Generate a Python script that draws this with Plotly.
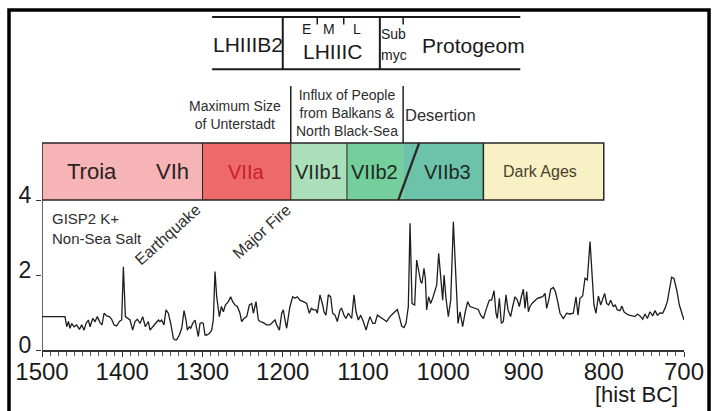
import plotly.graph_objects as go

# ---------------- data ----------------
k_years = [
    1500, 1471.3, 1469.2, 1467.1, 1465.1, 1463.0, 1460.1, 1456.8, 1453.4, 1450.5,
    1447.6, 1445.1, 1442.2, 1440.1, 1436.8, 1433.9, 1431.0, 1427.7, 1425.2, 1422.7,
    1419.4, 1416.1, 1413.2, 1410.2, 1406.9, 1403.6, 1400.7, 1398.6, 1396.1, 1393.6,
    1390.3, 1387.0, 1384.1, 1381.2, 1377.8, 1374.5, 1371.2, 1367.5,
    1365.4, 1361.2, 1357.1, 1355.0, 1353.0, 1350.9, 1348.0, 1345.5, 1342.6, 1339.6,
    1336.3, 1334.3, 1332.2, 1328.9, 1325.9, 1323.0, 1320.5, 1318.9, 1316.4, 1314.7,
    1312.2, 1309.3, 1307.3, 1305.2, 1303.1, 1301.0, 1299.0, 1296.9, 1294.8, 1291.5,
    1288.6, 1286.5, 1284.4, 1282.3, 1279.0, 1276.5, 1274.0, 1271.5, 1267.8, 1264.9,
    1262.4, 1259.5, 1256.6, 1253.3, 1251.2, 1248.3, 1244.9, 1241.6, 1238.7, 1236.6,
    1233.3, 1230.4, 1228.3, 1224.2, 1220.0, 1215.9, 1211.7, 1209.6, 1207.6, 1204.2,
    1201.3, 1199.3, 1197.2, 1195.1, 1193.0, 1191.0, 1187.6, 1184.7, 1181.8, 1178.5,
    1174.3, 1170.2, 1166.9, 1164.4, 1161.9, 1158.6, 1156.9, 1153.6, 1150.2, 1148.6,
    1146.1, 1143.2, 1140.3, 1137.8, 1134.9, 1132.0, 1128.6, 1126.6, 1123.7, 1121.2,
    1118.3, 1114.1, 1111.2, 1108.7, 1105.8, 1102.9, 1099.6, 1096.2, 1093.3, 1091.3,
    1087.9, 1085.0, 1082.1,
    1078.8, 1074.6, 1070.5, 1067.2, 1062.2, 1057.2, 1054.7, 1051.8, 1048.9, 1046.4,
    1043.5, 1041.4, 1038.9, 1035.6, 1033.1, 1030.6, 1028.1, 1026.5, 1024.0, 1022.3,
    1020.7, 1018.2, 1015.7, 1013.2, 1010.3, 1008.2, 1005.7, 1003.2, 1000.7, 999.0,
    996.6, 993.7, 990.7, 987.4, 984.1, 981.6, 979.1, 975.8, 972.9, 969.6,
    966.7, 963.3, 960.4, 956.3, 953.4, 950.0, 946.7, 942.6, 939.7, 936.7,
    934.3, 932.6, 930.1, 927.6, 925.1, 921.8, 919.3, 916.0, 913.5, 910.6,
    907.7, 905.2, 902.7, 900.2, 898.1, 896.0, 893.9, 891.9, 889.4, 885.6,
    882.7, 879.4, 876.1, 873.2, 871.1, 868.6, 866.1, 862.8, 860.3, 857.8,
    854.5,
    850.4, 846.2, 842.1, 837.9, 834.6, 832.1, 829.6, 826.3, 823.4, 820.5,
    817.1, 814.6, 812.2, 809.7, 806.7, 803.8, 801.4, 798.9, 796.4, 793.9,
    791.4, 788.1, 785.6, 783.1, 779.8, 777.3, 774.8, 771.5, 768.1, 764.8,
    761.1, 758.2, 754.8, 751.5, 748.6, 745.7, 742.4, 739.0, 736.1, 733.2,
    729.9, 726.6, 723.7, 720.8, 718.3, 715.4, 712.5, 709.1, 705.8, 702.9,
    700.0,
]
k_values = [
    0.89, 0.89, 0.62, 0.76, 0.58, 0.71, 0.62, 0.67, 0.55, 0.67,
    0.53, 0.71, 0.80, 0.62, 0.84, 0.76, 0.89, 0.73, 0.67, 0.98,
    0.91, 0.89, 0.82, 0.67, 0.64, 0.76, 0.80, 2.22, 0.89, 0.84,
    0.80, 0.53, 0.76, 0.82, 0.71, 0.89, 0.62, 0.76,
    0.53, 0.64, 0.76, 0.80, 0.76, 0.80, 0.67, 1.07, 0.98, 0.71,
    0.31, 0.27, 0.27, 0.40, 0.58, 1.05, 0.80, 0.53, 0.62, 0.58,
    0.71, 0.80, 0.58, 0.36, 0.71, 0.73, 0.71, 0.40, 0.40, 0.44,
    0.53, 0.80, 2.09, 1.42, 0.89, 1.16, 1.02, 1.20, 1.29, 1.42,
    1.29, 1.20, 1.16, 0.98, 0.76, 0.84, 0.89, 1.20, 1.24, 0.98,
    1.29, 0.80, 0.76, 0.73, 0.67, 0.67, 0.76, 0.80, 0.67, 0.53,
    0.98, 1.07, 0.80, 0.58, 0.89, 1.16, 1.42, 1.38, 1.42, 1.33,
    1.29, 1.24, 0.98, 1.11, 1.07, 1.07, 0.98, 1.47, 1.20, 1.02,
    0.93, 1.47, 1.42, 0.98, 0.93, 0.76, 1.07, 1.11, 0.93, 0.84,
    0.98, 0.84, 1.47, 1.02, 0.80, 0.93, 0.76, 0.53, 0.76, 0.89,
    0.71, 0.71, 0.93,
    0.89, 0.82, 0.76, 0.87, 0.98, 1.08, 0.89, 0.64, 0.60, 0.71,
    1.16, 3.38, 1.24, 1.20, 2.40, 2.09, 1.82, 1.78, 2.18, 1.91,
    1.07, 1.42, 1.24, 1.38, 1.60, 1.73, 2.58, 1.96, 1.33, 2.00,
    1.38, 0.89, 1.33, 3.42, 1.96, 0.71, 1.02, 0.62, 0.98, 1.29,
    1.16, 1.14, 1.11, 1.08, 0.93, 0.84, 1.07, 1.33, 1.33, 1.58,
    0.98, 0.84, 1.38, 0.71, 0.76, 1.47, 1.07, 0.89, 1.16, 1.42,
    1.33, 1.16, 1.42, 1.62, 1.11, 1.56, 1.02, 1.16, 1.24, 1.33,
    1.38, 1.40, 1.42, 1.51, 1.11, 1.33, 1.62, 1.67, 1.56, 1.33,
    0.98,
    0.84, 0.98, 0.96, 0.98, 1.42, 0.93, 1.38, 1.44, 1.91, 1.87,
    2.89, 1.87, 1.20, 0.98, 1.44, 1.20, 1.38, 1.51, 1.24, 1.20,
    1.33, 1.16, 1.20, 1.07, 1.05, 1.17, 1.02, 0.96, 0.93, 0.91,
    0.89, 0.96, 0.91, 0.82, 0.96, 0.84, 1.02, 0.91, 1.05, 0.93,
    0.99, 0.98, 1.11, 1.29, 1.64, 1.94, 1.91, 1.60, 1.20, 0.98,
    0.80,
]

# Troia settlement phases (band)
phase_names = ["VIh", "VIIa", "VIIb1", "VIIb2", "VIIb3", "Dark Ages"]
phase_start = [1500, 1300, 1190, 1120, 1050, 950]
phase_end = [1300, 1190, 1120, 1050, 950, 800]
phase_colors = ["#f6b4b7", "#ee6a69", "#aadfba", "#74cf9c", "#6dc3aa", "#f8f1c6"]
phase_label_years = [1337, 1246, 1155, 1086, 995, 879]

# Pottery periods (table)
pottery_names = ["LHIIIB2", "LHIIIC", "Protogeom"]
pottery_bounds = [1288, 1200, 1079, 904]
subphase_names = ["E", "M", "L"]
subphase_years = [1170, 1142, 1107]
subphase_ticks = [1157, 1124, 1050]

x_tick_vals = [1500, 1400, 1300, 1200, 1100, 1000, 900, 800, 700]
y_tick_vals = [0, 2, 4]

FONT = "Liberation Sans, Arial, sans-serif"
DARK = "#2b2523"
TXT = "#2e2e2e"

fig = go.Figure()
fig.add_trace(go.Scatter(x=k_years, y=k_values, mode="lines",
                         line=dict(color="#1e1e1e", width=1.3),
                         hoverinfo="skip", showlegend=False))

shapes = []
band_lo, band_hi = 4.0, 5.52
for s, e, c in zip(phase_start, phase_end, phase_colors):
    shapes.append(dict(type="rect", xref="x", yref="y", x0=s, x1=e, y0=band_lo, y1=band_hi,
                       fillcolor=c, line=dict(width=0), layer="below"))
for b in [1300, 1190, 1120]:
    shapes.append(dict(type="line", xref="x", yref="y", x0=b, x1=b, y0=band_lo, y1=band_hi,
                       line=dict(color=DARK, width=1)))
shapes.append(dict(type="line", xref="x", yref="y", x0=950, x1=950, y0=band_lo, y1=band_hi,
                   line=dict(color=DARK, width=1.5)))
shapes.append(dict(type="line", xref="x", yref="y", x0=1056, x1=1030, y0=band_lo, y1=band_hi,
                   line=dict(color=DARK, width=2.2)))
shapes.append(dict(type="rect", xref="x", yref="y", x0=1500, x1=800, y0=band_lo, y1=band_hi,
                   line=dict(color=DARK, width=1.5)))
for b in [1190, 1050]:
    shapes.append(dict(type="line", xref="x", yref="y", x0=b, x1=b, y0=band_hi, y1=7.04,
                       line=dict(color="#222", width=1.5)))
t_lo, t_hi = 7.49, 8.88
for yy in [t_lo, t_hi]:
    shapes.append(dict(type="line", xref="x", yref="y", x0=pottery_bounds[0], x1=pottery_bounds[-1],
                       y0=yy, y1=yy, line=dict(color="#1a1a1a", width=2)))
for b in pottery_bounds[1:3]:
    shapes.append(dict(type="line", xref="x", yref="y", x0=b, x1=b, y0=t_lo, y1=t_hi,
                       line=dict(color="#1a1a1a", width=2)))
for b in subphase_ticks:
    shapes.append(dict(type="line", xref="x", yref="y", x0=b, x1=b, y0=t_hi - 0.2, y1=t_hi,
                       line=dict(color="#1a1a1a", width=1.5)))
shapes.append(dict(type="line", xref="x", yref="y", x0=1500, x1=1500, y0=0, y1=4,
                   line=dict(color="#333", width=1.5)))
shapes.append(dict(type="rect", xref="paper", yref="paper", x0=-0.0514, x1=1.039,
                   y0=-0.3, y1=0.9855, line=dict(color="black", width=3.5)))

ann = []
def A(x, y, text, size, color=TXT, **kw):
    d = dict(x=x, y=y, xref="x", yref="y", text=text, showarrow=False,
             font=dict(family=FONT, size=size, color=color))
    d.update(kw)
    ann.append(d)

A(1438, 4.75, "Troia", 22, "#2a2222")
A(phase_label_years[0], 4.75, phase_names[0], 22, "#2a2222")
A(phase_label_years[1], 4.75, phase_names[1], 20, "#c91f2b")
for i in range(2, 5):
    A(phase_label_years[i], 4.75, phase_names[i], 20, "#1f2a24")
A(phase_label_years[5], 4.75, phase_names[5], 16, "#4a3f2a")

A(1243, 8.16, pottery_names[0], 21, "#1a1a1a")
A(1138, 7.95, pottery_names[1], 21, "#1a1a1a")
A(962, 8.13, pottery_names[2], 21, "#1a1a1a")
for n, yv in zip(subphase_names, subphase_years):
    A(yv, 8.55, n, 14, "#1a1a1a")
A(1062, 8.42, "Sub", 14, "#1a1a1a")
A(1062, 7.86, "myc", 14, "#1a1a1a")

A(1259.5, 6.28, "Maximum Size<br>of Unterstadt", 14, TXT)
A(1120, 6.33, "Influx of People<br>from Balkans &<br>North Black-Sea", 14, TXT)
A(1003, 6.27, "Desertion", 16.5, TXT)
A(1490, 3.23, "GISP2 K+<br>Non-Sea Salt", 15, TXT, xanchor="left", align="left")
A(1343, 3.07, "Earthquake", 16, TXT, textangle=-42)
A(1226, 3.15, "Major Fire", 16, TXT, textangle=-42)
ann.append(dict(x=(636 - 42) / 642, y=(350 - 395) / 345, xref="paper", yref="paper",
                xanchor="center", yanchor="middle",
                text="[hist BC]", showarrow=False,
                font=dict(family=FONT, size=22, color="#1a1a1a")))

fig.update_layout(
    width=712, height=411,
    margin=dict(l=42, r=28, t=5, b=61, autoexpand=False),
    paper_bgcolor="white", plot_bgcolor="white",
    shapes=shapes, annotations=ann, showlegend=False,
    xaxis=dict(range=[1500, 700], tickvals=x_tick_vals, ticks="outside", ticklen=5,
               tickwidth=1.2, tickcolor="#333", showline=True, linecolor="#333", linewidth=1.5,
               showgrid=False, zeroline=False, automargin=False, ticklabelstandoff=-6,
               minor=dict(dtick=10, tick0=700, ticks="outside", ticklen=4, tickcolor="#555", tickwidth=1),
               tickfont=dict(family=FONT, size=24, color="#1a1a1a")),
    yaxis=dict(range=[0, 9.2], tickvals=y_tick_vals, ticks="outside", ticklen=5, tickwidth=1.2,
               tickcolor="#333", showline=False, showgrid=False, zeroline=False, automargin=False,
               ticklabelshift=-5,
               tickfont=dict(family=FONT, size=23, color="#1a1a1a")),
)

fig.write_html("out.html", config={"displayModeBar": False},
               post_script="document.body.style.margin='0';document.body.style.overflow='hidden';")
